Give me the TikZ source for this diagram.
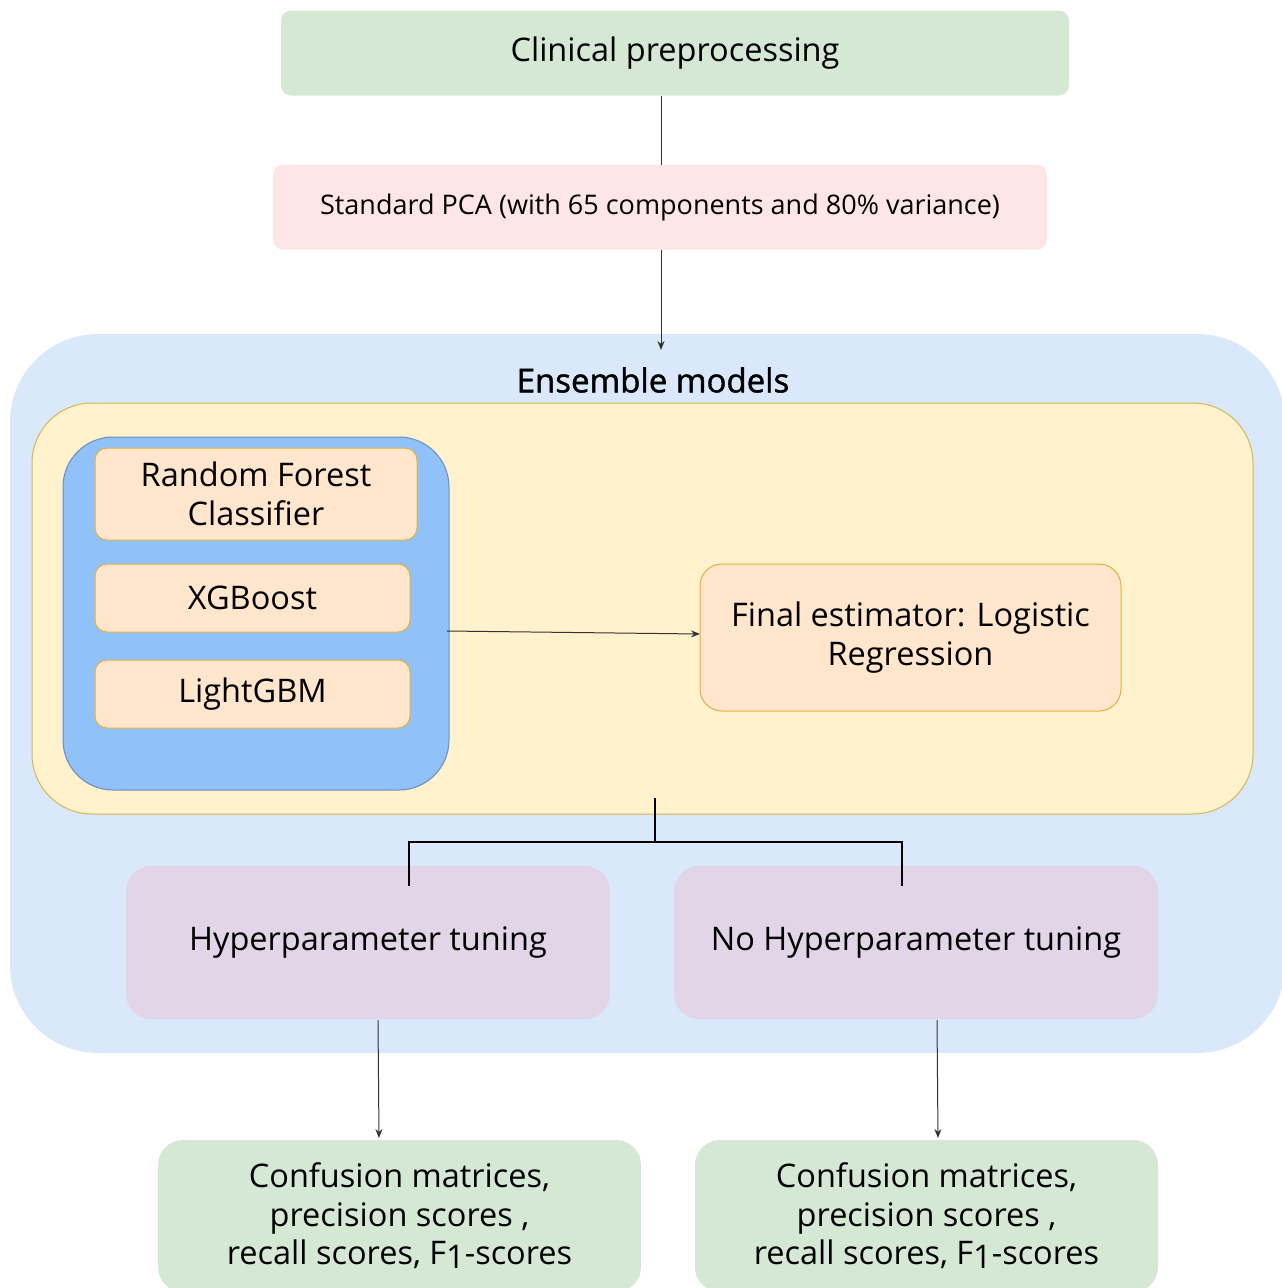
\documentclass[tikz,border=0pt]{standalone}
\usepackage{fontspec}
\setmainfont{Open Sans}
\newfontfamily\medfont[FakeBold=1.3]{Open Sans}
\usetikzlibrary{arrows.meta,calc}
\definecolor{cgreen}{HTML}{D5E8D4}
\definecolor{cpink}{HTML}{FFE6E6}
\definecolor{couter}{HTML}{DAE8FC}
\definecolor{cyellow}{HTML}{FFF2CC}
\definecolor{cyellowb}{HTML}{D6B656}
\definecolor{cinner}{HTML}{90C1F9}
\definecolor{cinnerb}{HTML}{6C8EBF}
\definecolor{corange}{HTML}{FFE6CC}
\definecolor{corangeb}{HTML}{E0B040}
\definecolor{cpurple}{HTML}{E1D5E7}
\definecolor{cline}{HTML}{333333}
\begin{document}
\begin{tikzpicture}[x=1pt,y=-1pt,
  box/.style={rectangle,inner sep=0pt,outer sep=0pt,align=center,text=black},
  orangebox/.style={box,fill=corange,draw=corangeb,line width=1pt,rounded corners=12pt},
  arr/.style={draw=cline,line width=1pt,-{Stealth[length=9pt,width=7pt]}},
  plain/.style={draw=cline,line width=1pt},
  bracket/.style={draw=black,line width=2.5pt},
  fbig/.style={font=\fontsize{32.5}{38.5}\selectfont},
  fmid/.style={font=\fontsize{27}{32}\selectfont}
]
\useasboundingbox (0,0) rectangle (1282,1288);
\clip (0,0) rectangle (1282,1288);

% top boxes
\node[box,fill=cgreen,rounded corners=10pt,minimum width=788pt,minimum height=85pt,fbig] (clin) at (675,53) {Clinical preprocessing};
\node[box,fill=cpink,rounded corners=10pt,minimum width=774pt,minimum height=85pt,fmid] (pca) at (660,207) {Standard PCA (with 65 components and 80\% variance)};

% containers
\node[box,fill=couter,rounded corners=88pt,minimum width=1275pt,minimum height=719pt] (outer) at (647.5,693.5) {};
\node[box,fill=cyellow,draw=cyellowb,line width=1pt,rounded corners=60pt,minimum width=1221pt,minimum height=411pt] (yellow) at (642.5,608.5) {};
\node[box,fill=cinner,draw=cinnerb,line width=1pt,rounded corners=50pt,minimum width=386pt,minimum height=353pt] (inner) at (256,613.5) {};
\node[box,font=\medfont\fontsize{33}{38}\selectfont] (title) at (653,380) {Ensemble models};

% base models
\node[orangebox,minimum width=322pt,minimum height=92pt,fbig] (rf) at (256,494) {Random Forest\\Classifier};
\node[orangebox,minimum width=315pt,minimum height=68pt,fbig] (xgb) at (252.5,598) {XGBoost};
\node[orangebox,minimum width=315pt,minimum height=68pt,fbig] (lgbm) at (252.5,694) {LightGBM};
\node[orangebox,rounded corners=22pt,minimum width=421pt,minimum height=147pt,fbig] (final) at (910.5,637.5) {Final estimator: Logistic\\Regression};

% tuning boxes
\node[box,fill=cpurple,rounded corners=25pt,minimum width=484pt,minimum height=153pt,fbig] (hyp) at (368,942.5) {Hyperparameter tuning};
\node[box,fill=cpurple,rounded corners=25pt,minimum width=484pt,minimum height=153pt,fbig] (nohyp) at (916,942.5) {No Hyperparameter tuning};

% result boxes
\node[box,fill=cgreen,rounded corners=25pt,minimum width=483pt,minimum height=152pt,fbig] (res1) at (399.5,1216) {Confusion matrices,\\precision scores ,\\recall scores, F\raisebox{-0.12em}{1}-scores};
\node[box,fill=cgreen,rounded corners=25pt,minimum width=463pt,minimum height=152pt,fbig] (res2) at (926.5,1216) {Confusion matrices,\\precision scores ,\\recall scores, F\raisebox{-0.12em}{1}-scores};

% connectors
\coordinate (pcaend) at (661,350);
\draw[plain] (clin.south -| pca.north) ++(1,0) coordinate (c1) -- (c1 |- pca.north);
\draw[arr] (pca.south -| pcaend) -- (pcaend);
\coordinate (instart) at (447,631);
\coordinate (finend) at (700,634);
\draw[arr] (instart) -- (finend);

\coordinate (bt) at (655,798);
\coordinate (bm) at (655,842);
\coordinate (bl) at (409,886);
\coordinate (br) at (902,886);
\draw[bracket] (bt) -- (bm);
\draw[bracket] (bl) |- (bm) -| (br);

\coordinate (h1) at (378,1020);
\coordinate (h2) at (379,1138);
\coordinate (n1) at (937,1020);
\coordinate (n2) at (938,1138);
\draw[arr] (h1) -- (h2);
\draw[arr] (n1) -- (n2);
\end{tikzpicture}
\end{document}
